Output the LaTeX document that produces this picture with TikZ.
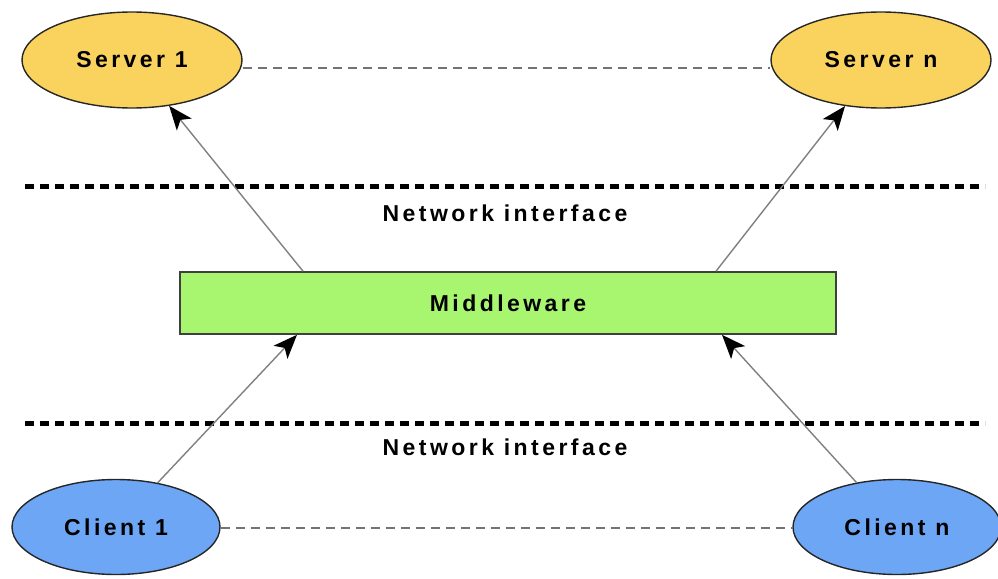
\documentclass[tikz,border=0pt]{standalone}
\usepackage{fontspec}
\setmainfont{Liberation Sans}[LetterSpace=15]
\usetikzlibrary{shapes.geometric,arrows.meta}
\definecolor{srvfill}{RGB}{250,211,95}
\definecolor{clifill}{RGB}{108,166,245}
\definecolor{mwfill}{RGB}{168,245,112}
\begin{document}
\begin{tikzpicture}[x=1pt,y=-1pt,
  lbl/.style={font=\bfseries\fontsize{23}{26}\selectfont},
  srv/.style={ellipse,draw=black!85,line width=1.4pt,fill=srvfill,minimum width=220pt,minimum height=96pt,inner sep=0pt,lbl},
  cli/.style={ellipse,draw=black!85,line width=1.4pt,fill=clifill,minimum width=208pt,minimum height=95pt,inner sep=0pt,lbl},
  mwbox/.style={rectangle,draw=black!75,line width=1.6pt,fill=mwfill,minimum width=656pt,minimum height=62pt,inner sep=0pt,lbl},
  netline/.style={line width=5pt,dash pattern=on 9pt off 6pt},
  peer/.style={draw=black!55,line width=2pt,dash pattern=on 9pt off 6pt},
  arr/.style={draw=black!50,line width=1.4pt,-{Stealth[length=24pt,width=19pt,inset=6pt,black]}}
]
\useasboundingbox (0,0) rectangle (998,578);
\node[srv] (s1) at (132,60) {Server 1};
\node[srv] (sn) at (881,60) {Server n};
\node[cli] (c1) at (116,527) {Client 1};
\node[cli] (cn) at (897,527) {Client n};
\node[mwbox] (mw) at (508,303) {Middleware};
\coordinate (n1l) at (25,186);
\coordinate (n1r) at (985,186);
\coordinate (n2l) at (25,423);
\coordinate (n2r) at (985,423);
\draw[netline] (n1l) -- (n1r);
\draw[netline] (n2l) -- (n2r);
\node[lbl] (t1) at (505,213) {Network interface};
\node[lbl] (t2) at (505,447) {Network interface};
\draw[peer] (s1.east |- 0,68) -- (sn.west |- 0,68);
\draw[peer] (c1.east |- 0,528) -- (cn.west |- 0,528);
\draw[arr] ([xshift=-205pt]mw.north) -- (s1);
\draw[arr] ([xshift=208pt]mw.north) -- (sn);
\draw[arr] (c1) -- ([xshift=-211pt]mw.south);
\draw[arr] (cn) -- ([xshift=214pt]mw.south);
\end{tikzpicture}
\end{document}
